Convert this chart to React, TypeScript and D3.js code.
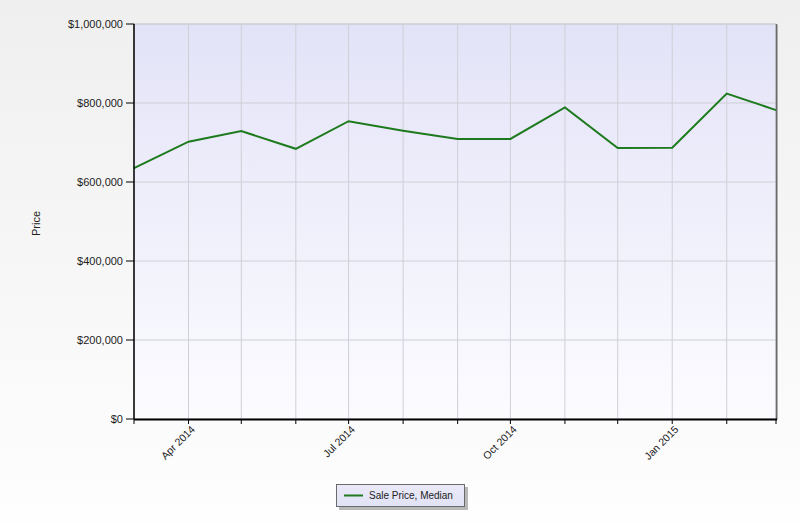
import React from 'react';
import * as d3 from 'd3';

// monthly median sale price, Mar 2014 - Mar 2015
const months: string[] = [
  '2014-03-01', '2014-04-01', '2014-05-01', '2014-06-01', '2014-07-01', '2014-08-01', '2014-09-01',
  '2014-10-01', '2014-11-01', '2014-12-01', '2015-01-01', '2015-02-01', '2015-03-01',
];
const medianPrice: number[] = [
  635000, 702000, 729000, 684000, 754000, 730000, 709000,
  709000, 789000, 686000, 687000, 824000, 782000,
];
const yTicks: number[] = [0, 200000, 400000, 600000, 800000, 1000000];
const labelMonths: string[] = ['2014-04-01', '2014-07-01', '2014-10-01', '2015-01-01'];
const seriesName = 'Sale Price, Median';
const yTitle = 'Price';

const W = 800;
const H = 524;
const M = { left: 134, right: 776, top: 24, bottom: 419 };

const parse = d3.timeParse('%Y-%m-%d');

const App: React.FC = () => {
  const dates = months.map(m => parse(m)!);
  const x = d3.scaleTime()
    .domain([dates[0], dates[dates.length - 1]])
    .range([M.left, M.right]);
  const y = d3.scaleLinear().domain([0, 1000000]).range([M.bottom, M.top]);

  const pts = dates.map((d, i) => ({ d, v: medianPrice[i] }));
  const line = d3.line<{ d: Date; v: number }>()
    .x(p => x(p.d))
    .y(p => y(p.v));

  const fmt = (v: number) => '$' + d3.format(',')(v);
  const labelFmt = d3.timeFormat('%b %Y');
  const labelSet = new Set(labelMonths);
  const font = 'Arial, "Liberation Sans", sans-serif';

  return (
    <svg width={W} height={H} style={{ position: 'absolute', left: 0, top: 0 }} fontFamily={font}>
      <defs>
        <linearGradient id="bg" x1="0" y1="0" x2="0" y2="1">
          <stop offset="0" stopColor="#efefef" />
          <stop offset="1" stopColor="#fefefe" />
        </linearGradient>
        <linearGradient id="plotbg" x1="0" y1="0" x2="0" y2="1">
          <stop offset="0" stopColor="#e3e3f8" />
          <stop offset="1" stopColor="#fcfcff" />
        </linearGradient>
        <linearGradient id="legbg" x1="0" y1="0" x2="0" y2="1">
          <stop offset="0" stopColor="#e9e9f9" />
          <stop offset="1" stopColor="#e2e2f6" />
        </linearGradient>
      </defs>
      <rect width={W} height={H} fill="url(#bg)" />

      {/* plot area */}
      <rect x={M.left + 2} y={M.top + 1} width={M.right - M.left} height={M.bottom - M.top} fill="#9a9a9a" opacity={0.5} />
      <rect x={M.left} y={M.top} width={M.right - M.left} height={M.bottom - M.top} fill="url(#plotbg)" stroke="#c8c8d0" strokeWidth={1} />

      {/* grid */}
      {dates.slice(1, -1).map((d, i) => (
        <line key={'gx' + i} x1={x(d)} x2={x(d)} y1={M.top} y2={M.bottom} stroke="#cfcfd6" strokeWidth={1} />
      ))}
      {yTicks.slice(1).map(t => (
        <line key={'gy' + t} x1={M.left} x2={M.right} y1={y(t)} y2={y(t)} stroke="#cfcfd6" strokeWidth={1} />
      ))}
      <line x1={M.right + 0.5} x2={M.right + 0.5} y1={M.top} y2={M.bottom} stroke="#6a6a6a" strokeWidth={1.5} />

      {/* series */}
      <path d={line(pts) ?? ''} fill="none" stroke="#1d7a1d" strokeWidth={2} strokeLinejoin="miter" />

      {/* y axis */}
      <line x1={M.left} x2={M.left} y1={M.top} y2={M.bottom} stroke="#000" strokeWidth={1.5} />
      {yTicks.map(t => (
        <g key={'yt' + t}>
          <line x1={M.left - 8} x2={M.left} y1={y(t)} y2={y(t)} stroke="#000" strokeWidth={1} />
          <text x={M.left - 11} y={y(t)} dy="0.35em" textAnchor="end" fontSize={11} fill="#222">{fmt(t)}</text>
        </g>
      ))}
      <text transform={`translate(40,${(M.top + M.bottom) / 2 + 2}) rotate(-90)`} textAnchor="middle" fontSize={11} fill="#222">{yTitle}</text>

      {/* x axis */}
      <line x1={M.left} x2={M.right + 1} y1={M.bottom + 0.5} y2={M.bottom + 0.5} stroke="#000" strokeWidth={2} />
      {dates.map((d, i) => (
        <line key={'xt' + i} x1={x(d)} x2={x(d)} y1={M.bottom} y2={M.bottom + 5} stroke="#000" strokeWidth={1} />
      ))}
      {dates.filter(d => labelSet.has(d3.timeFormat('%Y-%m-%d')(d))).map((d, i) => (
        <text key={'xl' + i} transform={`translate(${x(d) + 7},${M.bottom + 11}) rotate(-45)`} textAnchor="end" fontSize={10.5} fill="#222">{labelFmt(d)}</text>
      ))}

      {/* legend */}
      <rect x={339} y={487} width={129} height={23} fill="#8a8a8a" opacity={0.6} />
      <rect x={336.5} y={484.5} width={128} height={22} fill="url(#legbg)" stroke="#6a6a6a" strokeWidth={1} />
      <line x1={344} x2={363} y1={495.5} y2={495.5} stroke="#1d7a1d" strokeWidth={2} />
      <text x={369} y={495.5} dy="0.35em" fontSize={10} fill="#222">{seriesName}</text>
    </svg>
  );
};

export default App;
